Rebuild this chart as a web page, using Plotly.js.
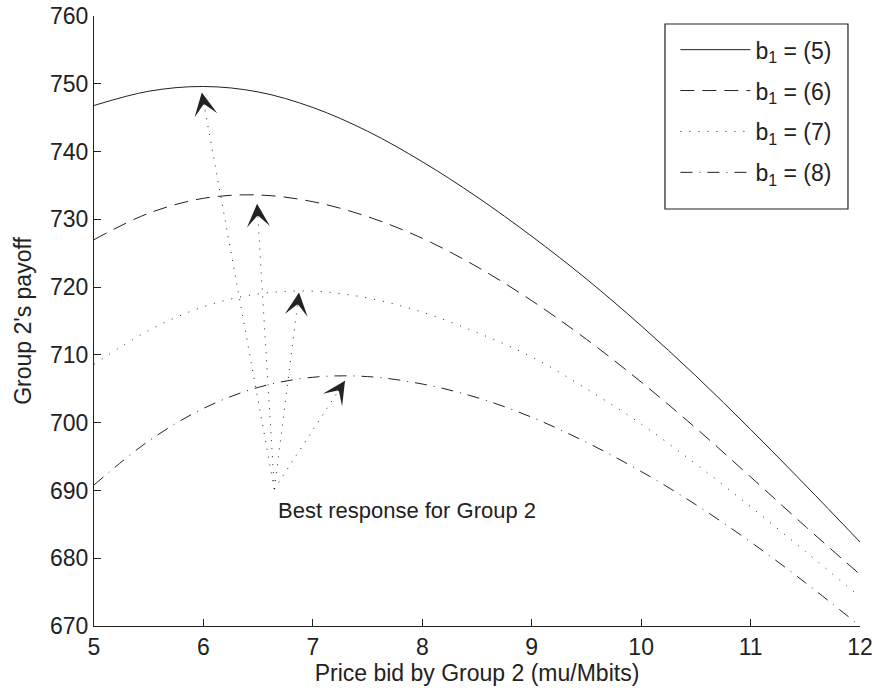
<!DOCTYPE html>
<html><head><meta charset="utf-8">
<script src="https://cdn.plot.ly/plotly-3.0.1.min.js"></script>
<style>html,body{margin:0;padding:0;background:#fff}</style>
</head><body><div id="chart" style="width:876px;height:693px"></div>
<script>
// ---- data ----
const xPrice   = [5, 5.5, 6, 6.5, 7, 7.5, 8, 8.5, 9, 9.5, 10, 10.5, 11, 11.5, 12];
const payoffB5 = [746.8, 748.9, 749.6, 748.8, 746.5, 743.0, 738.5, 733.3, 727.5, 721.2, 714.3, 706.9, 699.0, 690.8, 682.4];
const payoffB6 = [727.0, 730.9, 733.1, 733.6, 732.6, 730.4, 727.2, 723.0, 718.0, 712.3, 706.0, 699.2, 692.0, 684.7, 677.6];
const payoffB7 = [708.6, 713.6, 717.1, 719.0, 719.4, 718.4, 716.3, 713.3, 709.7, 705.0, 699.8, 693.9, 687.6, 681.0, 674.3];
const payoffB8 = [690.8, 697.3, 702.1, 705.2, 706.7, 706.8, 705.7, 703.7, 700.8, 697.1, 692.8, 687.9, 682.4, 676.4, 670.0];
const seriesNames = ['b<sub>1</sub> = (5)', 'b<sub>1</sub> = (6)', 'b<sub>1</sub> = (7)', 'b<sub>1</sub> = (8)'];
const bestTailX = 6.648, bestTailY = 690.2;
const bestTipX = [5.985, 6.49, 6.874, 7.294];
const bestTipY = [748.7, 732.3, 719.2, 706.2];
const noteText = 'Best response for Group 2';
const noteX = 6.66, noteY = 687.0;
const xTicks = [5, 6, 7, 8, 9, 10, 11, 12];
const yTicks = [670, 680, 690, 700, 710, 720, 730, 740, 750, 760];
const xTitle = 'Price bid by Group 2 (mu/Mbits)';
const yTitle = "Group 2's payoff";

// ---- styling ----
const ink = '#222';
const FONT = 'Liberation Sans, Arial, Helvetica, sans-serif';
const FS = 23;
const dashes = ['solid', '14px,8px', '1px,8px', '12px,7px,1px,7px'];
const allY = [payoffB5, payoffB6, payoffB7, payoffB8];

const traces = allY.map((ys, i) => ({
  x: xPrice, y: ys, type: 'scatter', mode: 'lines', name: seriesNames[i],
  legendgroup: 'g' + i,
  line: {color: ink, width: 1, dash: dashes[i], shape: 'spline', smoothing: 1}
}));

// dotted best-response lines
bestTipX.forEach((tx, i) => {
  traces.push({
    x: [bestTailX, tx], y: [bestTailY, bestTipY[i]], type: 'scatter', mode: 'lines',
    showlegend: false, hoverinfo: 'skip',
    line: {color: ink, width: 1, dash: '1px,7px'}
  });
});

const W = 876, H = 693, M = {l: 94, r: 16, t: 16, b: 67};
const xr = [5, 12], yr = [670, 760];
const pxX = (W - M.l - M.r) / (xr[1] - xr[0]);
const pxY = (H - M.t - M.b) / (yr[1] - yr[0]);
const HEAD = 12;

const annotations = bestTipX.map((tx, i) => {
  const dx = (bestTailX - tx) * pxX, dy = -(bestTailY - bestTipY[i]) * pxY;
  const len = Math.hypot(dx, dy);
  return {
    x: tx, y: bestTipY[i], xref: 'x', yref: 'y', showarrow: true, text: '',
    ax: dx / len * HEAD, ay: dy / len * HEAD,
    arrowhead: 3, arrowsize: 3.2, arrowwidth: 1.2, arrowcolor: ink
  };
});
annotations.push({
  x: noteX, y: noteY, xref: 'x', yref: 'y', text: noteText, showarrow: false,
  xanchor: 'left', yanchor: 'middle', font: {family: FONT, size: 22, color: ink}
});

const axisBase = {
  showgrid: false, zeroline: false, showline: true, linecolor: ink, linewidth: 1,
  mirror: false, ticks: 'inside', ticklen: 7, tickcolor: ink, tickwidth: 1,
  tickfont: {family: FONT, size: FS, color: ink}
};

const layout = {
  width: W, height: H, margin: M,
  paper_bgcolor: '#fff', plot_bgcolor: '#fff',
  font: {family: FONT, color: ink, size: FS},
  xaxis: Object.assign({}, axisBase, {range: xr, tickvals: xTicks,
    title: {text: xTitle, font: {family: FONT, size: FS, color: ink}, standoff: 0}}),
  yaxis: Object.assign({}, axisBase, {range: yr, tickvals: yTicks,
    title: {text: yTitle, font: {family: FONT, size: FS, color: ink}, standoff: 11}}),
  showlegend: true,
  legend: {x: 0.759, y: 0.980, xanchor: 'left', yanchor: 'top',
    bgcolor: 'rgba(0,0,0,0)', borderwidth: 0,
    font: {family: FONT, size: FS, color: ink}, itemwidth: 70,
    traceorder: 'grouped', tracegroupgap: 8},
  shapes: [{type: 'rect', xref: 'paper', yref: 'paper',
    x0: 0.7454, x1: 0.9843, y0: 0.6836, y1: 0.9869,
    line: {color: ink, width: 1.2}, fillcolor: '#fff', layer: 'above'}],
  annotations: annotations
};

Plotly.newPlot('chart', traces, layout, {displayModeBar: false, staticPlot: true});
</script></body></html>
